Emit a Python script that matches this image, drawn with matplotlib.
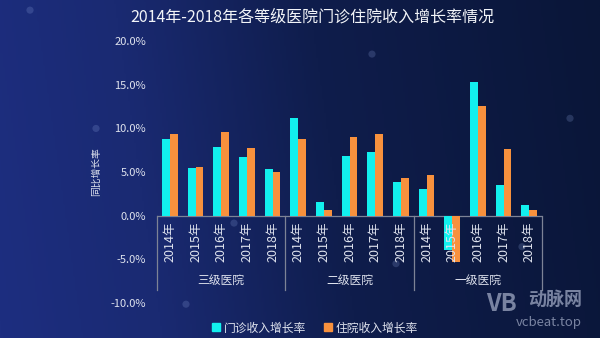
"""
Outpatient / inpatient revenue growth by hospital level, 2014-2018.
Grouped bars on a dark blue backdrop.
"""

import numpy as np
import matplotlib
matplotlib.use("Agg")
import matplotlib.pyplot as plt
from matplotlib.colors import LinearSegmentedColormap
from matplotlib.patches import Rectangle, Ellipse

plt.rcParams["font.family"] = ["Noto Sans CJK SC", "DejaVu Sans"]

#####################################
# Data
#####################################

groups = ["三级医院", "二级医院", "一级医院"]
years = ["2014年", "2015年", "2016年", "2017年", "2018年"]

# growth rates in %, per group, years 2014..2018
outpatient = [
    8.8, 5.5, 7.9, 6.7, 5.4,      # 三级
    11.2, 1.6, 6.8, 7.3, 3.9,     # 二级
    3.1, -3.9, 15.3, 3.5, 1.2,    # 一级
]
inpatient = [
    9.4, 5.6, 9.6, 7.7, 5.0,
    8.8, 0.6, 9.0, 9.3, 4.3,
    4.6, -5.3, 12.6, 7.6, 0.7,
]

series_names = ["门诊收入增长率", "住院收入增长率"]
CYAN = "#12f0ee"
ORANGE = "#f8913d"
TEXT = "#dfe3ee"
LINE = "#7d8396"

#####################################
# Figure + background
#####################################

fig = plt.figure(figsize=(6, 3.38), dpi=100)

bg = fig.add_axes([0, 0, 1, 1], zorder=-10)
bg.set_axis_off()
cmap = LinearSegmentedColormap.from_list(
    "bg", [(0, "#1d2e80"), (0.25, "#1a2a72"), (0.55, "#0f1d4c"), (1, "#0a1638")]
)
xx = np.linspace(0, 1, 300)
yy = np.linspace(0, 1, 170)
X, Y = np.meshgrid(xx, yy)
bg.imshow(X + 0.08 * Y, cmap=cmap, aspect="auto", extent=[0, 1, 0, 1],
          origin="lower", vmin=0, vmax=1.08)
# faint bokeh specks
for px, py in [(0.16, 0.62), (0.39, 0.34), (0.66, 0.22), (0.87, 0.27),
               (0.05, 0.97), (0.31, 0.10), (0.62, 0.84), (0.95, 0.65)]:
    bg.add_patch(Ellipse((px, py), 0.012, 0.021, color="#8fa6e0", alpha=0.22, lw=0))
bg.set_xlim(0, 1)
bg.set_ylim(0, 1)

#####################################
# Bars
#####################################

ax = fig.add_axes([157 / 600, 1 - 303 / 338, 385 / 600, 262 / 338])
ax.set_facecolor("none")

n = len(outpatient)
x = np.arange(n)
w = 0.3
ax.bar(x - w / 2, outpatient, width=w, color=CYAN, zorder=2)
ax.bar(x + w / 2, inpatient, width=w, color=ORANGE, zorder=2)

ax.set_xlim(-0.5, n - 0.5)
ax.set_ylim(-10, 20)
ax.set_yticks([-10, -5, 0, 5, 10, 15, 20])
ax.set_yticklabels([f"{v:.1f}%" for v in ax.get_yticks()], color=TEXT, fontsize=8)
ax.tick_params(axis="y", length=0, pad=8)
ax.set_xticks([])
for s in ax.spines.values():
    s.set_visible(False)

ax.axhline(0, color=LINE, lw=0.9, zorder=1)

# category labels
for i in range(n):
    ax.text(i, -0.7, years[i % len(years)], rotation=90, ha="center", va="top",
            color=TEXT, fontsize=9, zorder=5)

# group separators and group labels
for g in range(len(groups) + 1):
    ax.plot([g * 5 - 0.5, g * 5 - 0.5], [0, -8.5], color=LINE, lw=0.9,
            clip_on=False, zorder=1)
for g, name in enumerate(groups):
    ax.text(g * 5 + 2, -7.4, name, ha="center", va="center", color=TEXT, fontsize=8.5)

ax.set_ylabel("同比增长率", color=TEXT, fontsize=7, labelpad=7)

#####################################
# Title, legend, watermark
#####################################

fig.text(0.52, 0.95, "2014年-2018年各等级医院门诊住院收入增长率情况",
         ha="center", va="center", color="#f2f4f8", fontsize=11.5)

handles = [Rectangle((0, 0), 1, 1, color=CYAN), Rectangle((0, 0), 1, 1, color=ORANGE)]
fig.legend(handles, series_names, loc="center", bbox_to_anchor=(0.525, 0.03),
           ncol=2, frameon=False, fontsize=8.5, labelcolor=TEXT,
           handlelength=0.7, handleheight=0.7, handletextpad=0.3, columnspacing=1.5)

fig.text(0.835, 0.10, "VB", color="#8d97b3", fontsize=17, fontweight="bold",
         ha="center", va="center", alpha=0.85)
fig.text(0.925, 0.115, "动脉网", color="#8d97b3", fontsize=13, fontweight="bold",
         ha="center", va="center", alpha=0.85)
fig.text(0.915, 0.045, "vcbeat.top", color="#8d97b3", fontsize=9.5,
         ha="center", va="center", alpha=0.85)

fig.savefig("out.png", dpi=100, facecolor="#10204f")
